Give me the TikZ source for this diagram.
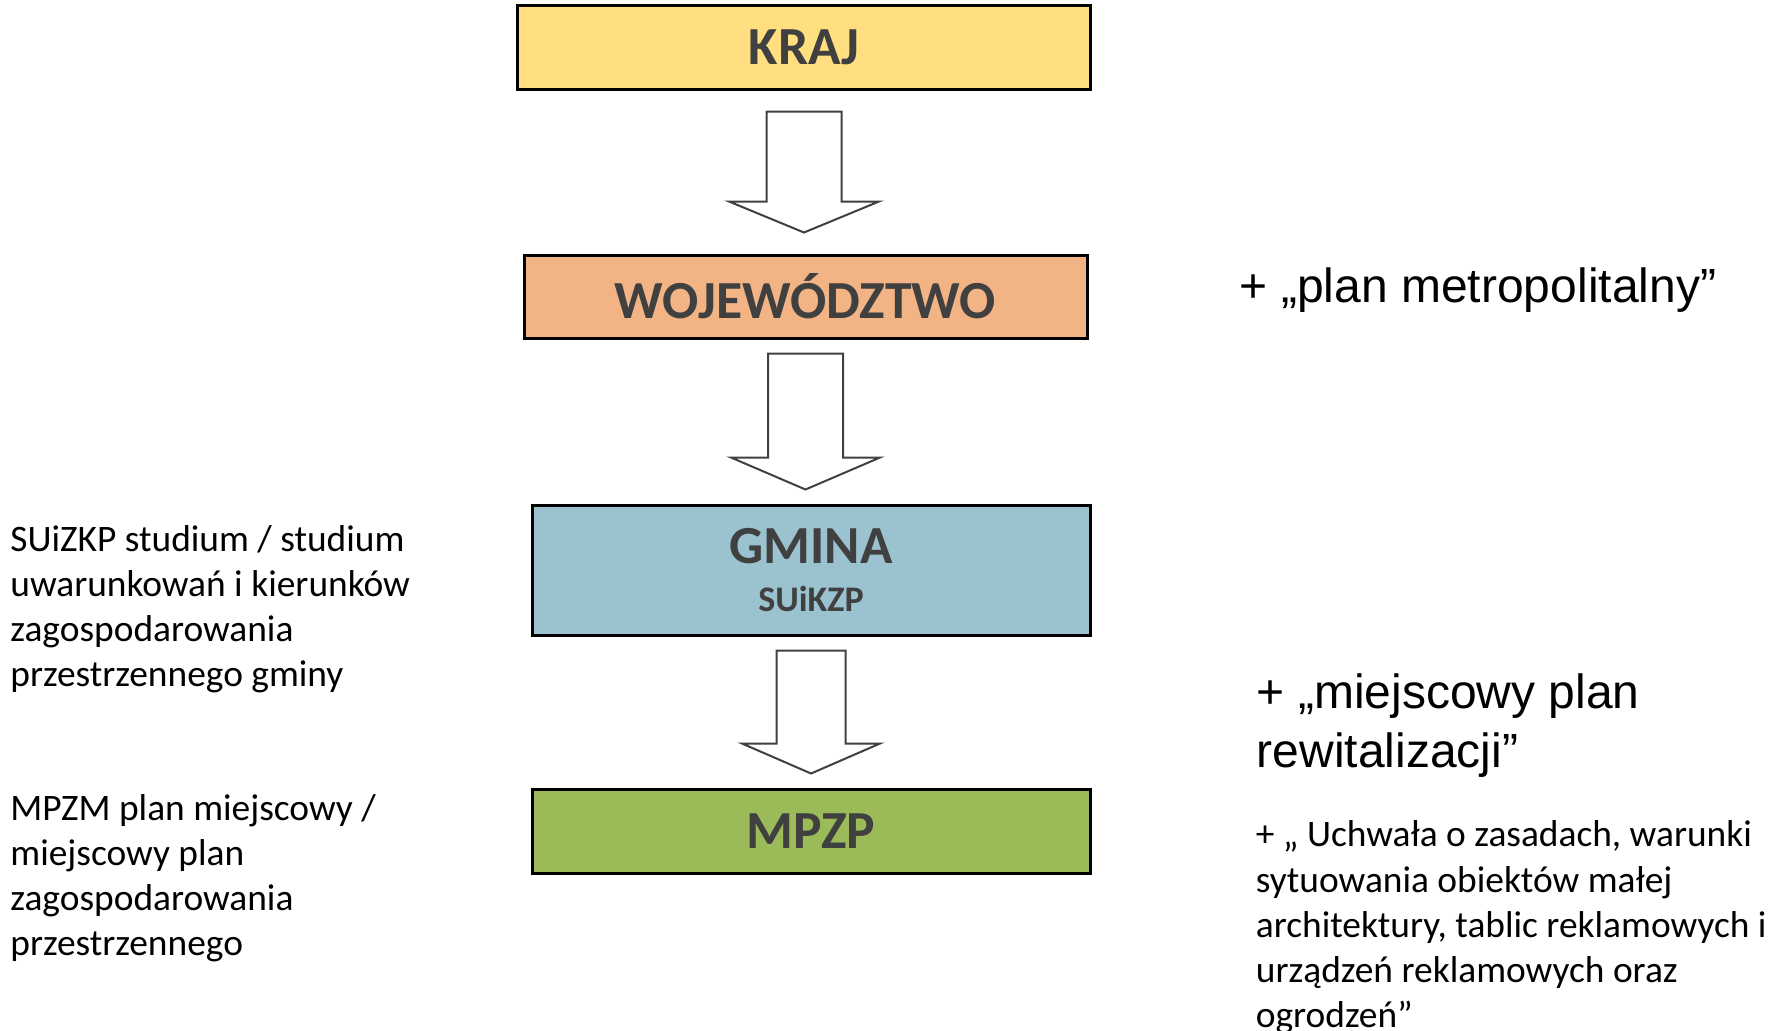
\documentclass[tikz,border=0pt]{standalone}
\usepackage{fontspec}
\setmainfont{Carlito}
\newfontfamily\arialfont{Liberation Sans}
\usepackage{tikz}
\usetikzlibrary{positioning}
\usetikzlibrary{calc}
\definecolor{krajyellow}{HTML}{FFDF80}
\definecolor{wojorange}{HTML}{F2B385}
\definecolor{gminablue}{HTML}{9BC2CF}
\definecolor{mpzpgreen}{HTML}{9BBB59}
\definecolor{labelgray}{HTML}{404040}
\tikzset {
  % level boxes
  level/.style = {draw=black, line width=1.5pt, inner sep=0pt, align=center,
    text=labelgray, font=\bfseries\fontsize{26.8}{30}\selectfont},
  % hollow block arrows between the levels
  blockarrow/.style = {draw=labelgray, line width=1pt, fill=white, line join=miter},
  % side notes
  note/.style = {inner sep=0pt, align=left, anchor=north west,
    font=\fontsize{18.7}{22.6}\selectfont},
  bignote/.style = {inner sep=0pt, align=left, font=\arialfont\fontsize{24}{29.2}\selectfont},
}

\begin{document}
\begin{tikzpicture}[x=0.5pt, y=-0.5pt]
  \useasboundingbox (0,0) rectangle (1779,1030);

  \node[level, fill=krajyellow, minimum width=286.5pt, minimum height=42pt] (kraj) at (804,47) {KRAJ};

  \node[level, fill=wojorange, minimum width=281.5pt, minimum height=41.5pt] (woj) at (805.5,296.5) {WOJEWÓDZTWO};

  \node[level, fill=gminablue, minimum width=279pt, minimum height=65pt] (gmina) at (811,570)
    {GMINA\\[-6pt]{\fontsize{18}{20}\selectfont SUiKZP}};

  \node[level, fill=mpzpgreen, minimum width=279pt, minimum height=42pt] (mpzp) at (811,831) {MPZP};

  \foreach \from/\to/\sw/\hw/\gt/\gb/\hh in {kraj/woj/37.5/75/21/21/31, woj/gmina/37.5/74.5/14/14/32, gmina/mpzp/34.5/69/14/14/30}
    \draw[blockarrow]
      ($(\from.south)+(-\sw,\gt)$) -- ($(\from.south)+(\sw,\gt)$)
      -- ($(\from.south |- \to.north)+(\sw,-\gb-\hh)$) -- ($(\from.south |- \to.north)+(\hw,-\gb-\hh)$)
      -- ($(\from.south |- \to.north)+(0,-\gb)$)
      -- ($(\from.south |- \to.north)+(-\hw,-\gb-\hh)$) -- ($(\from.south |- \to.north)+(-\sw,-\gb-\hh)$)
      -- cycle;

  \node[bignote, anchor=base west] (metro) at (1239.5,302) {+ „plan metropolitalny”};

  \node[bignote, anchor=north west] (rewit) at (1256.5,673.5) {+ „miejscowy plan\\rewitalizacji”};

  \node[note] (uchwala) at (1255.5,820.5)
    {+ „ Uchwała o zasadach, warunki\\sytuowania obiektów małej\\architektury, tablic reklamowych i\\urządzeń reklamowych oraz\\ogrodzeń”};

  \node[note] (studium) at (10,525)
    {SUiZKP studium / studium\\uwarunkowań i kierunków\\zagospodarowania\\przestrzennego gminy};

  \node[note] (plan) at (10,794)
    {MPZM plan miejscowy /\\miejscowy plan\\zagospodarowania\\przestrzennego};
\end{tikzpicture}
\end{document}
